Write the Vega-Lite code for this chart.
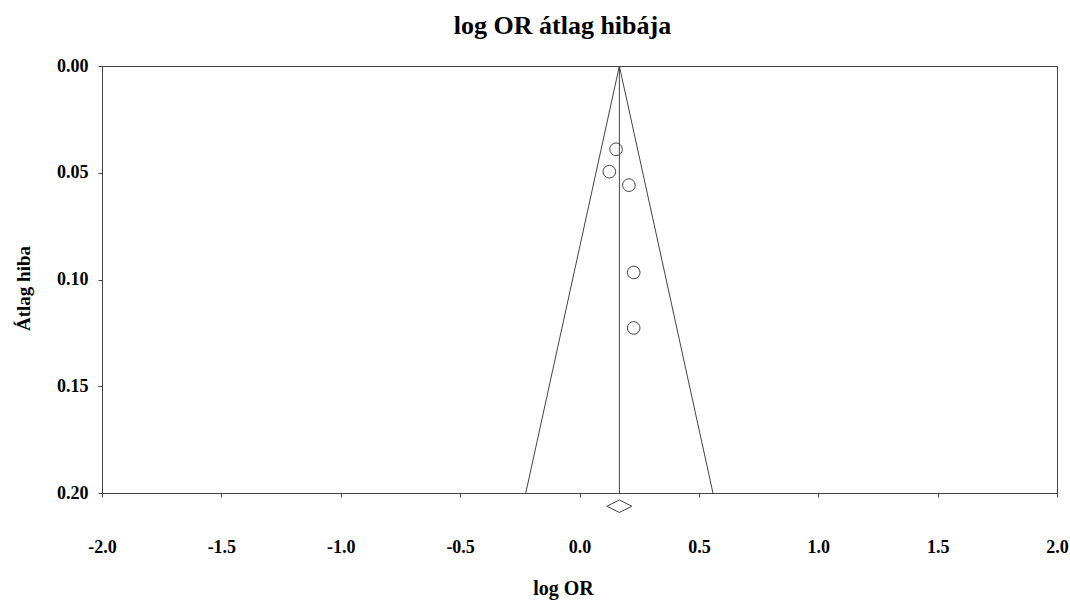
{
  "$schema": "https://vega.github.io/schema/vega-lite/v6.json",
  "width": 955,
  "height": 427,
  "autosize": "none",
  "padding": {"left": 102, "top": 66, "right": 13, "bottom": 107},
  "background": "white",
  "config": {
    "view": {"stroke": "#444444", "strokeWidth": 1},
    "font": "Liberation Serif",
    "axis": {"grid": false}
  },
  "title": {
    "text": "log OR átlag hibája",
    "font": "Liberation Serif",
    "fontSize": 26,
    "fontWeight": "bold",
    "color": "black",
    "baseline": "alphabetic",
    "offset": 5,
    "dy": 8,
    "dx": -17
  },
  "datasets": {
    "studies": [
      {"logOR": 0.153, "se": 0.039},
      {"logOR": 0.125, "se": 0.0495},
      {"logOR": 0.207, "se": 0.0558},
      {"logOR": 0.227, "se": 0.0967},
      {"logOR": 0.227, "se": 0.1227}
    ],
    "funnel": [
      {"logOR": -0.225, "se": 0.2, "ord": 1},
      {"logOR": 0.167, "se": 0.0, "ord": 2},
      {"logOR": 0.559, "se": 0.2, "ord": 3}
    ],
    "pooled": [
      {"logOR": 0.167, "se": 0.0, "se2": 0.2, "seDiamond": 0.2062}
    ]
  },
  "layer": [
    {
      "data": {"name": "funnel"},
      "mark": {"type": "line", "stroke": "#444444", "strokeWidth": 1},
      "encoding": {
        "x": {
          "field": "logOR", "type": "quantitative",
          "scale": {"domain": [-2, 2], "nice": false, "zero": false},
          "axis": {
            "values": [-2, -1.5, -1, -0.5, 0, 0.5, 1, 1.5, 2],
            "labelExpr": "datum.value < 0 ? '-' + format(-datum.value, '.1f') : format(datum.value, '.1f')",
            "title": "log OR",
            "titleFont": "Liberation Serif",
            "titleFontSize": 20,
            "titleFontWeight": "bold",
            "titleColor": "black",
            "titleBaseline": "alphabetic",
            "titleAnchor": "start",
            "titleAlign": "center",
            "titleX": 461,
            "titleY": 101,
            "labelFont": "Liberation Serif",
            "labelFontSize": 18,
            "labelFontWeight": "bold",
            "labelColor": "black",
            "labelPadding": 41,
            "tickSize": 4,
            "tickColor": "#444444",
            "domainColor": "#444444",
            "labelFlush": false,
            "labelOverlap": false
          }
        },
        "y": {
          "field": "se", "type": "quantitative",
          "scale": {"domain": [0, 0.2], "nice": false, "zero": false, "reverse": true},
          "axis": {
            "values": [0, 0.05, 0.1, 0.15, 0.2],
            "format": ".2f",
            "title": "Átlag hiba",
            "titleFont": "Liberation Serif",
            "titleFontSize": 19,
            "titleFontWeight": "bold",
            "titleColor": "black",
            "titleBaseline": "alphabetic",
            "titleAnchor": "start",
            "titleAlign": "center",
            "titleAngle": -90,
            "titleX": -73,
            "titleY": 222,
            "labelFont": "Liberation Serif",
            "labelFontSize": 18,
            "labelFontWeight": "bold",
            "labelColor": "black",
            "labelPadding": 10,
            "tickSize": 4,
            "tickColor": "#444444",
            "domainColor": "#444444",
            "labelFlush": false,
            "labelOverlap": false
          }
        },
        "order": {"field": "ord", "type": "quantitative"}
      }
    },
    {
      "data": {"name": "pooled"},
      "mark": {"type": "rule", "stroke": "#444444", "strokeWidth": 1},
      "encoding": {
        "x": {"field": "logOR", "type": "quantitative"},
        "y": {"field": "se", "type": "quantitative"},
        "y2": {"field": "se2"}
      }
    },
    {
      "data": {"name": "pooled"},
      "mark": {"type": "point", "shape": "M-1,0L0,-0.5L1,0L0,0.5Z", "size": 625, "filled": false, "stroke": "#444444", "strokeWidth": 1, "opacity": 1},
      "encoding": {
        "x": {"field": "logOR", "type": "quantitative"},
        "y": {"field": "seDiamond", "type": "quantitative"}
      }
    },
    {
      "data": {"name": "studies"},
      "mark": {"type": "point", "shape": "circle", "size": 160, "filled": false, "stroke": "#444444", "strokeWidth": 1, "opacity": 1},
      "encoding": {
        "x": {"field": "logOR", "type": "quantitative"},
        "y": {"field": "se", "type": "quantitative"}
      }
    }
  ]
}
